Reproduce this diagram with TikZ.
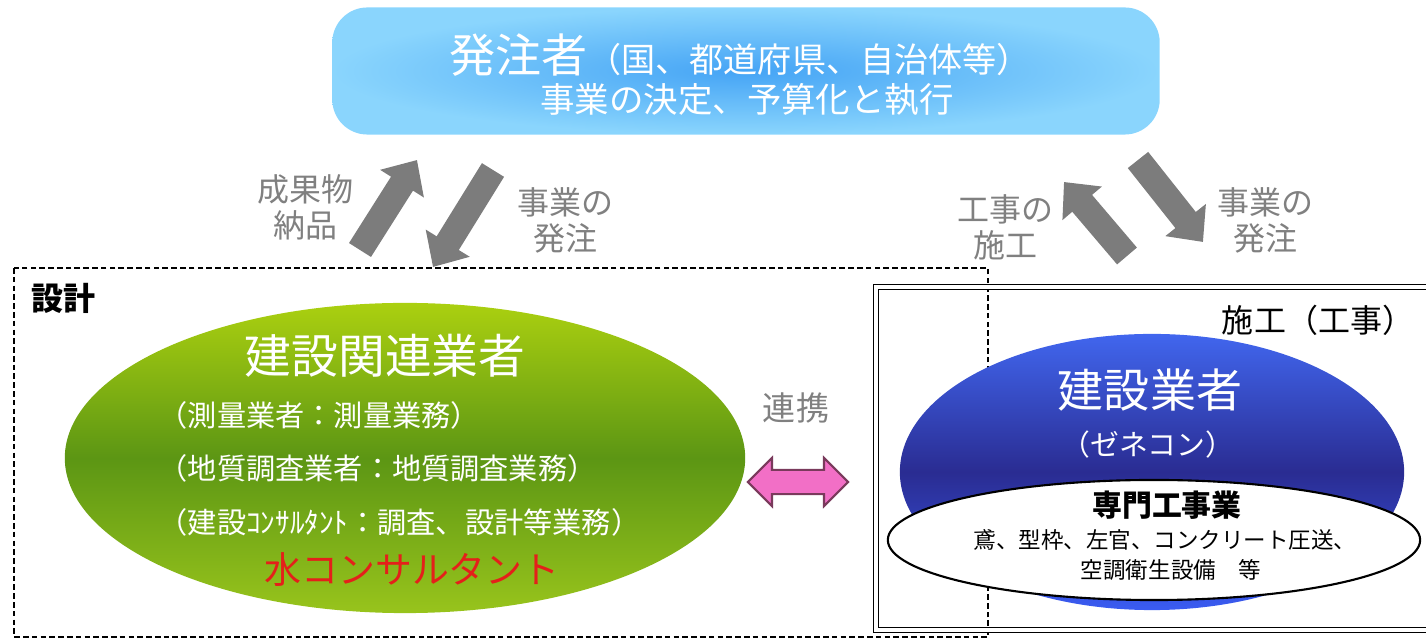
\documentclass[tikz,border=0pt]{standalone}
\usepackage{fontspec}
\setmainfont{Noto Sans CJK JP}
\usetikzlibrary{shapes.geometric,shapes.arrows,arrows.meta}
\definecolor{skyin}{HTML}{45A4F5}
\definecolor{skyout}{HTML}{8AD5FD}
\definecolor{arrgray}{HTML}{7C7C7C}
\definecolor{labgray}{HTML}{808080}
\definecolor{grtop}{HTML}{ABD010}
\definecolor{grmid}{HTML}{5C9614}
\definecolor{grbot}{HTML}{98C41C}
\definecolor{bltop}{HTML}{4166EE}
\definecolor{blmid}{HTML}{2A2C92}
\definecolor{blbot}{HTML}{3A5CF2}
\definecolor{pinkfill}{HTML}{F26FC6}
\definecolor{pinkline}{HTML}{7A3A5C}
\definecolor{kred}{HTML}{E4201A}
\newcommand\fsz[1]{\fontsize{#1}{#1}\selectfont}
\begin{document}
\begin{tikzpicture}[x=0.01cm,y=-0.01cm,
  wtxt/.style={text=white,inner sep=0pt},
  btxt/.style={text=black,inner sep=0pt},
  lbl/.style={text=labgray,align=center,inner sep=0pt,font=\fontsize{9.1pt}{10.2pt}\selectfont},
  fat/.style={draw=arrgray,line width=0.26cm,-{Triangle[width=0.5cm,length=0.28cm]}},
  oval/.style={ellipse,inner sep=0pt}]
\clip (0,0) rectangle (1426,640);

% frames
\draw[line width=0.5pt,dash pattern=on 1.6pt off 0.9pt] (14,268) rectangle (988,637);
\draw[line width=0.4pt,double,double distance=1.1pt] (876,287) rectangle (1445,630);
\node[btxt,font=\bfseries\fsz{9.1pt}] (sekkei) at (64,298) {設計};
\node[btxt,font=\fsz{9.1pt}] (sekou) at (1318,320) {施工（工事）};

% client
\node[rounded corners=0.35cm,minimum width=8.27cm,minimum height=1.27cm,
      inner color=skyin,outer color=skyout] (hatchu) at (746,71) {};
\node[wtxt] (hatchuA) at (740,55) {{\fsz{13.1pt}発注者}{\fsz{9.7pt}（国、都道府県、自治体等）}};
\node[wtxt,font=\fsz{9.8pt}] (hatchuB) at (747,100) {事業の決定、予算化と執行};

% gray arrows
\coordinate (la1) at (360,250);
\coordinate (la2) at (417,160);
\coordinate (lb1) at (493,170);
\coordinate (lb2) at (433,267);
\coordinate (ra1) at (1127,256);
\coordinate (ra2) at (1064,182);
\coordinate (rb1) at (1138,160);
\coordinate (rb2) at (1203,242);
\foreach \s/\e in {la1/la2,lb1/lb2,ra1/ra2,rb1/rb2}{
\draw[fat] (\s) -- (\e);
}
\node[lbl] (nohin) at (305,207) {成果物\\納品};
\node[lbl] (hatL) at (565,220) {事業の\\発注};
\node[lbl] (koji) at (1005,227) {工事の\\施工};
\node[lbl] (hatR) at (1265,220) {事業の\\発注};

% design side
\node[oval,minimum width=6.8cm,minimum height=3.1cm,
      top color=grtop,bottom color=grbot,middle color=grmid] (kanren) at (405,458) {};
\node[wtxt,font=\fsz{13.3pt}] (kanrenT) at (385,356) {建設関連業者};
\node[wtxt,anchor=west,font=\fsz{8.3pt}] (sokuryo) at (158,415) {（測量業者：測量業務）};
\node[wtxt,anchor=west,font=\fsz{8.3pt}] (chishitsu) at (158,468) {（地質調査業者：地質調査業務）};
\node[wtxt,anchor=west,font=\fsz{8.3pt}] (consul) at (158,522) {（建設ｺﾝｻﾙﾀﾝﾄ：調査、設計等業務）};
\node[text=kred,inner sep=0pt,font=\fsz{10.5pt}] (mizu) at (412,570) {水コンサルタント};

% link
\node[lbl,font=\fsz{9.4pt}] (renkei) at (796,408) {連携};
\node[double arrow,draw=pinkline,fill=pinkfill,line width=0.6pt,inner sep=0.11cm,
      double arrow head extend=0.12cm,minimum height=1.0cm] (renkeiA) at (798,482) {};

% builder side
\node[oval,minimum width=5.04cm,minimum height=2.76cm,
      top color=bltop,bottom color=blbot,middle color=blmid] (gyosha) at (1152,472) {};
\node[wtxt,font=\fsz{13.1pt}] (gyoshaT) at (1150,390) {建設業者};
\node[wtxt,font=\fsz{8.2pt}] (zenecon) at (1148,445) {（ゼネコン）};
\node[oval,draw=black,fill=white,line width=0.6pt,minimum width=5.32cm,minimum height=1.2cm] (senmon) at (1154,540) {};
\node[btxt,font=\bfseries\fsz{8.5pt}] (senmonT) at (1167,505) {専門工事業};
\node[btxt,font=\fsz{6.4pt}] (senmonA) at (1165,540) {鳶、型枠、左官、コンクリート圧送、};
\node[btxt,font=\fsz{6.4pt}] (senmonB) at (1171,570) {空調衛生設備　等};
\end{tikzpicture}
\end{document}
